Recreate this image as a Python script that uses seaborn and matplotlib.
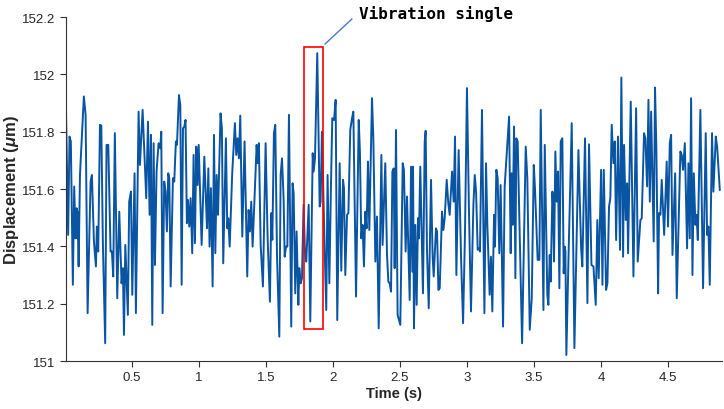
import numpy as np
import pandas as pd
import matplotlib
matplotlib.use('Agg')
import matplotlib.pyplot as plt
from matplotlib.ticker import FuncFormatter
from matplotlib.patches import Rectangle
import seaborn as sns

# displacement signal, split in ~0.7 s chunks
# time (s)
t_1 = [0.010, 0.027, 0.037, 0.047, 0.062, 0.072, 0.082, 0.090, 0.095, 0.097, 0.105, 0.115, 0.144, 0.157, 0.172,
       0.194, 0.204, 0.219, 0.234, 0.241, 0.251, 0.264, 0.274, 0.286, 0.303, 0.313, 0.326, 0.343, 0.353, 0.363,
       0.375, 0.393, 0.408, 0.425, 0.435, 0.443, 0.453, 0.472, 0.482, 0.495, 0.505, 0.522, 0.532, 0.552, 0.562,
       0.582, 0.594, 0.609, 0.622, 0.634, 0.644, 0.654, 0.664, 0.674, 0.686]
d_1 = [151.893, 151.440, 151.783, 151.766, 151.266, 151.609, 151.428, 151.533, 151.428, 151.521, 151.330, 151.649,
       151.923, 151.859, 151.167, 151.626, 151.649, 151.417, 151.330, 151.469, 151.382, 151.824, 151.821, 151.405,
       151.062, 151.754, 151.754, 151.382, 151.382, 151.295, 151.795, 151.219, 151.521, 151.271, 151.324, 151.091,
       151.405, 151.161, 151.556, 151.591, 151.231, 151.655, 151.167, 151.870, 151.684, 151.876, 151.742, 151.568,
       151.835, 151.510, 151.789, 151.126, 151.760, 151.335, 151.661]

t_2 = [0.701, 0.714, 0.721, 0.731, 0.743, 0.753, 0.763, 0.773, 0.781, 0.791, 0.808, 0.818, 0.830, 0.838, 0.853,
       0.863, 0.873, 0.883, 0.893, 0.902, 0.912, 0.920, 0.930, 0.940, 0.952, 0.962, 0.972, 0.982, 0.992, 1.000,
       1.022, 1.042, 1.062, 1.072, 1.081, 1.091, 1.104, 1.114, 1.124, 1.134, 1.144, 1.163, 1.173, 1.183, 1.203,
       1.213, 1.221, 1.231, 1.250, 1.270, 1.280, 1.290, 1.300, 1.310, 1.325, 1.342, 1.362, 1.372]
d_2 = [151.760, 151.742, 151.800, 151.167, 151.626, 151.591, 151.452, 151.655, 151.638, 151.260, 151.638, 151.626,
       151.766, 151.754, 151.928, 151.893, 151.266, 151.812, 151.818, 151.841, 151.481, 151.562, 151.469, 151.568,
       151.376, 151.719, 151.411, 151.748, 151.614, 151.754, 151.405, 151.713, 151.463, 151.672, 151.399, 151.603,
       151.260, 151.789, 151.376, 151.649, 151.510, 151.864, 151.812, 151.341, 151.777, 151.463, 151.498, 151.399,
       151.655, 151.830, 151.719, 151.777, 151.707, 151.856, 151.434, 151.766, 151.295, 151.527]

t_3 = [1.382, 1.392, 1.402, 1.422, 1.432, 1.439, 1.449, 1.462, 1.479, 1.499, 1.514, 1.531, 1.541, 1.549, 1.561,
       1.571, 1.584, 1.601, 1.611, 1.621, 1.633, 1.641, 1.651, 1.661, 1.673, 1.690, 1.700, 1.708, 1.720, 1.730,
       1.743, 1.750, 1.760, 1.770, 1.782, 1.792, 1.802, 1.820, 1.832, 1.850, 1.857, 1.867, 1.884, 1.902, 1.909,
       1.919, 1.936, 1.951, 1.961, 1.974, 1.986, 1.996, 2.009, 2.021, 2.033, 2.051]
d_3 = [151.452, 151.556, 151.399, 151.638, 151.754, 151.690, 151.760, 151.405, 151.260, 151.760, 151.428, 151.207,
       151.516, 151.423, 151.795, 151.824, 151.364, 151.085, 151.649, 151.707, 151.568, 151.364, 151.399, 151.399,
       151.859, 151.120, 151.620, 151.585, 151.236, 151.452, 151.196, 151.324, 151.271, 151.289, 151.545, 151.382,
       151.347, 151.545, 151.138, 151.725, 151.661, 151.707, 152.074, 151.539, 151.556, 151.800, 151.452, 151.178,
       151.649, 151.271, 151.609, 151.847, 151.841, 151.911, 151.143, 151.690]

t_4 = [2.063, 2.076, 2.083, 2.093, 2.106, 2.116, 2.130, 2.143, 2.153, 2.173, 2.193, 2.202, 2.212, 2.222, 2.232,
       2.242, 2.252, 2.262, 2.272, 2.292, 2.302, 2.317, 2.329, 2.342, 2.362, 2.371, 2.391, 2.404, 2.414, 2.424,
       2.434, 2.444, 2.454, 2.461, 2.471, 2.483, 2.496, 2.503, 2.521, 2.530, 2.543, 2.553, 2.573, 2.583, 2.593,
       2.598, 2.605, 2.615, 2.625, 2.635, 2.642, 2.652, 2.672, 2.685, 2.692, 2.702, 2.715, 2.732, 2.744]
d_4 = [151.315, 151.632, 151.603, 151.300, 151.510, 151.516, 151.806, 151.847, 151.870, 151.225, 151.841, 151.731,
       151.428, 151.475, 151.330, 151.521, 151.463, 151.696, 151.457, 151.917, 151.777, 151.347, 151.504, 151.114,
       151.719, 151.405, 151.690, 151.370, 151.277, 151.271, 151.242, 151.661, 151.672, 151.324, 151.806, 151.161,
       151.138, 151.126, 151.690, 151.667, 151.382, 151.574, 151.213, 151.678, 151.312, 151.678, 151.114, 151.475,
       151.196, 151.498, 151.428, 151.678, 151.236, 151.766, 151.803, 151.382, 151.184, 151.632, 151.364]

t_5 = [2.752, 2.769, 2.777, 2.787, 2.797, 2.814, 2.824, 2.834, 2.849, 2.861, 2.871, 2.889, 2.901, 2.911, 2.921,
       2.938, 2.956, 2.971, 2.985, 3.000, 3.015, 3.030, 3.048, 3.058, 3.068, 3.080, 3.090, 3.097, 3.112, 3.130,
       3.142, 3.152, 3.169, 3.179, 3.189, 3.202, 3.209, 3.219, 3.229, 3.241, 3.251, 3.269, 3.281, 3.314, 3.326,
       3.333, 3.341, 3.351, 3.361, 3.368, 3.378, 3.411, 3.438]
d_5 = [151.295, 151.463, 151.452, 151.248, 151.254, 151.521, 151.457, 151.498, 151.632, 151.550, 151.510, 151.661,
       151.556, 151.783, 151.300, 151.736, 151.359, 151.132, 151.440, 151.952, 151.521, 151.173, 151.545, 151.649,
       151.591, 151.388, 151.393, 151.382, 151.876, 151.167, 151.690, 151.475, 151.231, 151.364, 151.173, 151.510,
       151.399, 151.667, 151.638, 151.376, 151.614, 151.120, 151.609, 151.853, 151.376, 151.655, 151.475, 151.818,
       151.289, 151.777, 151.766, 151.062, 151.748]

t_6 = [3.450, 3.468, 3.483, 3.498, 3.507, 3.527, 3.540, 3.550, 3.570, 3.580, 3.599, 3.607, 3.617, 3.624, 3.637,
       3.644, 3.649, 3.659, 3.669, 3.679, 3.689, 3.699, 3.711, 3.721, 3.729, 3.734, 3.741, 3.758, 3.781, 3.801,
       3.831, 3.851, 3.860, 3.880, 3.898, 3.910, 3.928, 3.943, 3.960, 3.972, 3.982, 4.000, 4.010, 4.020, 4.037,
       4.047, 4.059, 4.069, 4.079, 4.092, 4.102, 4.112, 4.126]
d_6 = [151.638, 151.109, 151.219, 151.684, 151.603, 151.353, 151.353, 151.876, 151.178, 151.754, 151.231, 151.196,
       151.370, 151.277, 151.591, 151.521, 151.347, 151.731, 151.556, 151.661, 151.254, 151.766, 151.777, 151.306,
       151.399, 151.382, 151.021, 151.382, 151.830, 151.045, 151.736, 151.393, 151.330, 151.777, 151.202, 151.756,
       151.335, 151.330, 151.196, 151.492, 151.289, 151.667, 151.266, 151.667, 151.248, 151.271, 151.539, 151.568,
       151.824, 151.690, 151.766, 151.422, 151.783]

t_7 = [4.141, 4.151, 4.164, 4.171, 4.184, 4.194, 4.201, 4.221, 4.241, 4.261, 4.273, 4.293, 4.303, 4.320, 4.330,
       4.343, 4.353, 4.363, 4.373, 4.392, 4.402, 4.412, 4.425, 4.432, 4.442, 4.452, 4.470, 4.489, 4.499, 4.512,
       4.522, 4.532, 4.552, 4.564, 4.591, 4.601, 4.611, 4.624, 4.641, 4.651, 4.661, 4.671, 4.681, 4.691, 4.703,
       4.711, 4.721, 4.740, 4.760, 4.780, 4.790, 4.800, 4.810, 4.827, 4.837, 4.855, 4.865, 4.885]
d_7 = [151.388, 151.989, 151.364, 151.754, 151.492, 151.620, 151.376, 151.905, 151.295, 151.882, 151.347, 151.492,
       151.498, 151.795, 151.777, 151.609, 151.911, 151.556, 151.870, 151.417, 151.954, 151.742, 151.236, 151.516,
       151.510, 151.632, 151.440, 151.696, 151.469, 151.760, 151.789, 151.370, 151.655, 151.219, 151.731, 151.719,
       151.667, 151.760, 151.393, 151.690, 151.428, 151.917, 151.300, 151.655, 151.475, 151.510, 151.422, 151.876,
       151.254, 151.795, 151.440, 151.469, 151.266, 151.795, 151.591, 151.783, 151.748, 151.596]

x_ticks = [0.5, 1, 1.5, 2, 2.5, 3, 3.5, 4, 4.5]
y_ticks = [151, 151.2, 151.4, 151.6, 151.8, 152, 152.2]
note = 'Vibration single'
# window around the marked event (s, um)
box_t = (1.785, 1.926)
box_d = (151.112, 152.096)

t = np.concatenate([t_1, t_2, t_3, t_4, t_5, t_6, t_7])
d = np.concatenate([d_1, d_2, d_3, d_4, d_5, d_6, d_7])
df = pd.DataFrame({'Time': t, 'Displacement': d})

sns.set_theme(style='ticks')
plt.rcParams['font.family'] = ['Liberation Sans', 'DejaVu Sans']
plt.rcParams['mathtext.fontset'] = 'custom'
plt.rcParams['mathtext.it'] = 'Liberation Sans:italic:bold'

fig = plt.figure(figsize=(7.24, 4.10), dpi=100)
ax = fig.add_axes([0.091, 0.117, 0.906, 0.839])

sns.lineplot(data=df, x='Time', y='Displacement', color='#0A55A3', linewidth=1.4,
             estimator=None, sort=False, ax=ax)

ax.set_xlim(0.01, 4.9)
ax.set_ylim(151, 152.2)
ax.set_xticks(x_ticks)
ax.set_yticks(y_ticks)
fmt = FuncFormatter(lambda v, p: f'{v:g}')
ax.xaxis.set_major_formatter(fmt)
ax.yaxis.set_major_formatter(fmt)
ax.tick_params(direction='out', length=4, width=0.8, color='#333333', labelcolor='#262626', labelsize=9.5)
sns.despine(ax=ax)
for s in ['left', 'bottom']:
    ax.spines[s].set_color('#333333')
    ax.spines[s].set_linewidth(0.8)

ax.set_xlabel('Time (s)', fontsize=10.5, fontweight='bold', color='#262626', labelpad=2)
ax.set_ylabel(r'Displacement ($\mu$m)', fontsize=12, fontweight='bold', color='#262626')
ax.yaxis.set_label_coords(-0.068, 0.5)

# red window + callout
ax.add_patch(Rectangle((box_t[0], box_d[0]), box_t[1] - box_t[0], box_d[1] - box_d[0],
                       fill=False, edgecolor='#FF0000', linewidth=1.2, zorder=5, clip_on=False))
ax.annotate('', xy=(box_t[1], box_d[1] + 0.003), xytext=(2.158, 152.2),
            arrowprops=dict(arrowstyle='-', color='#4A78C8', lw=1.0), annotation_clip=False)
ax.text(2.195, 152.215, note, fontsize=11.5, fontweight='bold', family=['DejaVu Sans Mono'],
        color='black', ha='left', va='center', clip_on=False)

plt.savefig('out.png', dpi=100)
